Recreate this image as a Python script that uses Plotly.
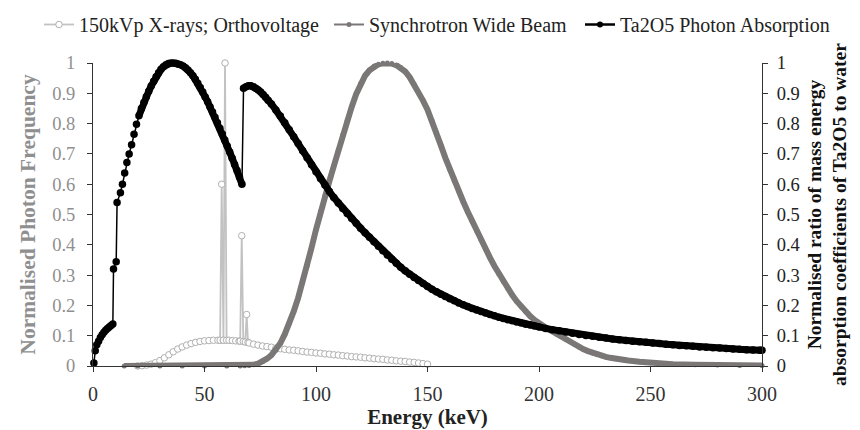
import plotly.graph_objects as go

# ---------------- data ----------------
# 150 kVp X-ray spectrum (orthovoltage), normalised
xray_E = [20, 22, 24, 26, 28, 30, 32, 34, 36, 38, 40, 42, 44, 46, 48, 50, 52, 54, 56,
          57.0, 57.7, 58.4, 58.5, 59.2, 59.9, 61, 62.5, 64, 65.5, 66.0, 66.7, 67.4,
          68.3, 68.9, 69.5, 70, 72, 74, 76, 78, 80, 82, 84, 86, 88, 90, 92, 94, 96, 98,
          100, 102, 104, 106, 108, 110, 112, 114, 116, 118, 120, 122, 124, 126, 128,
          130, 132, 134, 136, 138, 140, 142, 144, 146, 148, 150]
xray_V = [0.0, 0.001, 0.003, 0.006, 0.011, 0.018, 0.027, 0.037, 0.047, 0.056, 0.063,
          0.069, 0.074, 0.078, 0.081, 0.083, 0.084, 0.085, 0.085,
          0.085, 0.60, 0.085, 0.085, 1.0, 0.085, 0.085, 0.084, 0.083, 0.082, 0.082, 0.43,
          0.081, 0.079, 0.17, 0.078, 0.076, 0.072, 0.069, 0.066, 0.064, 0.062, 0.059,
          0.057, 0.055, 0.053, 0.052, 0.050, 0.048, 0.046, 0.045, 0.043, 0.042, 0.040,
          0.039, 0.037, 0.036, 0.034, 0.033, 0.031, 0.030, 0.029, 0.027, 0.026, 0.024,
          0.023, 0.022, 0.020, 0.019, 0.017, 0.016, 0.015, 0.013, 0.012, 0.010, 0.008,
          0.006]

# Synchrotron wide beam spectrum, normalised
sync_E = [14, 20, 30, 40, 50, 60, 66, 68, 70, 72, 74, 76, 78, 80, 82, 84, 86, 88, 90,
          92, 94, 96, 98, 100, 102, 104, 106, 108, 110, 112, 114, 116, 118, 120, 122,
          124, 126, 128, 130, 132, 134, 136, 138, 140, 142, 144, 146, 148, 150, 152,
          154, 156, 158, 160, 162, 164, 166, 168, 170, 172, 174, 176, 178, 180, 182,
          184, 186, 188, 190, 192, 194, 196, 198, 200, 202, 204, 206, 208, 210, 212,
          214, 216, 218, 220, 222, 224, 226, 228, 230, 232, 234, 236, 238, 240, 245,
          250, 255, 260, 270, 280, 290, 300]
sync_V = [0, 0, 0, 0, 0, 0, 0, 0.001, 0.002, 0.004, 0.008, 0.014, 0.024, 0.036, 0.052,
          0.075, 0.105, 0.14, 0.18, 0.225, 0.275, 0.33, 0.39, 0.45, 0.51, 0.562, 0.61,
          0.66, 0.712, 0.762, 0.81, 0.855, 0.897, 0.932, 0.958, 0.976, 0.989, 0.996,
          0.999, 1.0, 0.998, 0.993, 0.985, 0.972, 0.953, 0.93, 0.903, 0.876, 0.846,
          0.81, 0.77, 0.728, 0.687, 0.648, 0.612, 0.578, 0.543, 0.51, 0.478, 0.447,
          0.417, 0.387, 0.358, 0.33, 0.304, 0.279, 0.256, 0.234, 0.214, 0.196, 0.18,
          0.165, 0.152, 0.14, 0.131, 0.122, 0.114, 0.105, 0.097, 0.088, 0.08, 0.071,
          0.063, 0.055, 0.049, 0.043, 0.038, 0.034, 0.03, 0.027, 0.024, 0.022, 0.02,
          0.018, 0.014, 0.011, 0.008, 0.006, 0.004, 0.003, 0.002, 0.002]

# Ta2O5 / water mass energy absorption coefficient ratio, normalised
ta_E = [0.4, 1.0, 1.7, 2.5, 3.3, 4.1, 4.9, 5.7, 6.5, 7.3, 8.1, 8.9, 9.2, 10.4, 10.8,
        12.3, 13.2, 14.2, 15.2, 16.2, 17.3, 18.4, 19.5, 20.6, 21.7, 22.8, 23.9, 25.0,
        26.1, 27.2, 28.3, 29.4, 30.5, 31.6, 32.7, 33.8, 34.9, 36.0, 37.1, 38.2, 39.3,
        40.4, 41.5, 42.6, 43.7, 44.8, 45.9, 47.0, 48.1, 49.2, 50.3, 51.4, 52.5, 53.6,
        54.7, 55.8, 56.9, 58.0, 59.1, 60.2, 61.3, 62.4, 63.5, 64.6, 65.7, 66.8, 67.5,
        68.6, 69.7, 70.8, 71.9, 73.0, 74.1, 75.2, 76.3, 77.4, 78.5, 80, 82, 84, 86, 88,
        90, 92, 94, 96, 98, 100, 102, 104, 106, 108, 110, 112, 114, 116, 118, 120, 122,
        124, 126, 128, 130, 132, 134, 136, 138, 140, 142, 144, 146, 148, 150, 152, 154,
        156, 158, 160, 162, 164, 166, 168, 170, 172, 174, 176, 178, 180, 182, 184, 186,
        188, 190, 192, 194, 196, 198, 200, 203, 206, 209, 212, 215, 218, 221, 224, 227,
        230, 233, 236, 239, 242, 245, 248, 251, 254, 257, 260, 263, 266, 269, 272, 275,
        278, 281, 284, 287, 290, 293, 296, 299, 300]
ta_V = [0.01, 0.05, 0.07, 0.082, 0.094, 0.103, 0.111, 0.118, 0.124, 0.129, 0.134, 0.139,
        0.32, 0.344, 0.54, 0.572, 0.6, 0.637, 0.672, 0.7, 0.73, 0.765, 0.798, 0.826,
        0.85, 0.87, 0.889, 0.907, 0.924, 0.94, 0.955, 0.968, 0.979, 0.988, 0.994, 0.998,
        1.0, 1.0, 0.999, 0.997, 0.994, 0.99, 0.984, 0.977, 0.968, 0.958, 0.946, 0.933,
        0.919, 0.904, 0.888, 0.872, 0.855, 0.838, 0.821, 0.803, 0.785, 0.766, 0.746,
        0.726, 0.706, 0.686, 0.665, 0.645, 0.624, 0.6, 0.917, 0.922, 0.925, 0.925, 0.922,
        0.917, 0.911, 0.904, 0.896, 0.887, 0.877, 0.865, 0.845, 0.825, 0.803, 0.78,
        0.757, 0.734, 0.71, 0.687, 0.664, 0.641, 0.619, 0.597, 0.576, 0.556, 0.538,
        0.52, 0.503, 0.487, 0.471, 0.455, 0.44, 0.425, 0.41, 0.395, 0.38, 0.366, 0.352,
        0.339, 0.326, 0.314, 0.303, 0.292, 0.282, 0.272, 0.262, 0.253, 0.245, 0.237,
        0.229, 0.222, 0.215, 0.208, 0.202, 0.196, 0.19, 0.185, 0.18, 0.175, 0.17, 0.166,
        0.161, 0.157, 0.153, 0.149, 0.145, 0.142, 0.138, 0.135, 0.132, 0.129, 0.124,
        0.12, 0.116, 0.112, 0.108, 0.104, 0.101, 0.098, 0.095, 0.092, 0.089, 0.087,
        0.084, 0.082, 0.08, 0.078, 0.076, 0.074, 0.072, 0.07, 0.068, 0.067, 0.065,
        0.063, 0.062, 0.06, 0.059, 0.058, 0.056, 0.055, 0.054, 0.053, 0.052, 0.052]

# energies at which the Ta2O5 curve has absorption-edge jumps (drawn thin)
ta_edges = [9.2, 10.8, 67.5]
ta_dense_from = 20.6

names = ["150kVp X-rays; Orthovoltage", "Synchrotron Wide Beam", "Ta2O5 Photon Absorption"]
x_ticks = [0, 50, 100, 150, 200, 250, 300]

# ---------------- styles ----------------
FONT = "Liberation Serif, Times New Roman, serif"
C_XRAY = "#c2c2c2"
C_SYNC = "#7b7777"
C_TA = "#000000"
C_LEFT = "#8f8f8f"

W, H = 860, 430
M_L, M_R, M_T, M_B = 93, 98, 63, 64
PW = W - M_L - M_R
PH = H - M_T - M_B

# thick band version of the Ta2O5 curve (dense region), broken at the K-edge
band_x, band_y = [], []
for e, v in zip(ta_E, ta_V):
    if e < ta_dense_from:
        continue
    if e in ta_edges:
        band_x.append(None)
        band_y.append(None)
    band_x.append(e)
    band_y.append(v)

fig = go.Figure()

fig.add_trace(go.Scatter(
    x=xray_E, y=xray_V, name=names[0], mode="lines+markers",
    line=dict(color=C_XRAY, width=1.8),
    marker=dict(symbol="circle", size=6.5, color="white", line=dict(color="#b0b0b0", width=1)),
    cliponaxis=False, legend="legend"))

fig.add_trace(go.Scatter(
    x=sync_E, y=sync_V, name=names[1], mode="lines+markers",
    line=dict(color=C_SYNC, width=6),
    marker=dict(size=5, color=C_SYNC),
    cliponaxis=False, showlegend=False))
fig.add_trace(go.Scatter(
    x=[None], y=[None], name=names[1], mode="lines+markers",
    line=dict(color=C_SYNC, width=2), marker=dict(size=5, color=C_SYNC),
    legend="legend2"))

fig.add_trace(go.Scatter(
    x=band_x, y=band_y, mode="lines", yaxis="y2",
    line=dict(color=C_TA, width=7), connectgaps=False,
    cliponaxis=False, showlegend=False, hoverinfo="skip"))
fig.add_trace(go.Scatter(
    x=ta_E, y=ta_V, name=names[2], mode="lines+markers", yaxis="y2",
    line=dict(color=C_TA, width=1.5),
    marker=dict(size=7.5, color=C_TA),
    cliponaxis=False, showlegend=False))
fig.add_trace(go.Scatter(
    x=[None], y=[None], name=names[2], mode="lines+markers", yaxis="y2",
    line=dict(color=C_TA, width=2.5), marker=dict(size=6, color=C_TA),
    legend="legend3"))

leg_y = 1 + (M_T - 5) / PH
leg_common = dict(orientation="h", y=leg_y, xanchor="left", yanchor="top", itemwidth=30,
                  font=dict(family=FONT, size=20, color="#222222"),
                  bgcolor="rgba(0,0,0,0)")

fig.update_layout(
    width=W, height=H,
    margin=dict(l=M_L, r=M_R, t=M_T, b=M_B, autoexpand=False),
    paper_bgcolor="white", plot_bgcolor="white",
    font=dict(family=FONT, size=18, color="#222222"),
    legend=dict(x=(39 - M_L) / PW, **leg_common),
    legend2=dict(x=(329 - M_L) / PW, **leg_common),
    legend3=dict(x=(580 - M_L) / PW, **leg_common),
    xaxis=dict(range=[0, 300], tickvals=x_ticks, showgrid=False, zeroline=False,
               showline=True, linecolor="#333333", linewidth=1,
               ticks="outside", ticklen=5, tickcolor="#333333",
               ticklabelstandoff=5, automargin=False,
               tickfont=dict(family=FONT, size=20, color="#333333"),
               title=dict(text="<b>Energy (keV)</b>", standoff=3,
                          font=dict(family=FONT, size=21, color="#222222"))),
    yaxis=dict(range=[0, 1], dtick=0.1, showgrid=False, zeroline=False,
               showline=True, linecolor="#333333", linewidth=1,
               ticks="outside", ticklen=5, tickcolor="#333333",
               ticklabelstandoff=8,
               tickfont=dict(family=FONT, size=18.5, color=C_LEFT),
               title=dict(text="<b>Normalised Photon Frequency</b>", standoff=10,
                          font=dict(family=FONT, size=21.5, color=C_LEFT))),
    yaxis2=dict(range=[0, 1], dtick=0.1, overlaying="y", side="right", anchor="x",
                showgrid=False, zeroline=False,
                showline=True, linecolor="#333333", linewidth=1,
                ticks="outside", ticklen=5, tickcolor="#333333",
                ticklabelstandoff=5,
                tickfont=dict(family=FONT, size=18.5, color="#222222"),
                title=dict(text="<b>Normalised ratio of mass energy<br>absorption coefficients of Ta2O5 to water</b>",
                           standoff=8,
                           font=dict(family=FONT, size=19.5, color="#111111"))),
)

fig.write_html("out.html")
